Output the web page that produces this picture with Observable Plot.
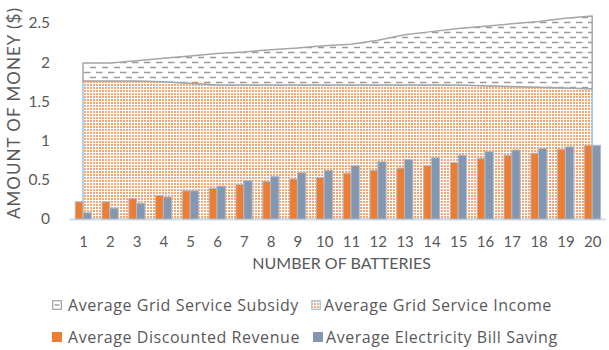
<!DOCTYPE html>
<html><head><meta charset="utf-8">
<script src="https://cdn.jsdelivr.net/npm/d3@7"></script>
<script src="https://cdn.jsdelivr.net/npm/@observablehq/plot@0.6"></script>
<style>
body{margin:0;background:#fff;font-family:Lato,"Open Sans",sans-serif;}
#wrap{position:relative;width:609px;height:350px;overflow:hidden;}
.leg{position:absolute;height:20px;line-height:20px;font-family:"Open Sans",sans-serif;font-size:16px;letter-spacing:0.55px;color:#595959;white-space:nowrap;display:flex;align-items:center;}
.leg svg{margin-right:6px;}
</style></head><body><div id="wrap"></div>
<script>
const batteries = [1,2,3,4,5,6,7,8,9,10,11,12,13,14,15,16,17,18,19,20];
const gridServiceIncome = [1.76,1.76,1.76,1.75,1.73,1.71,1.71,1.71,1.71,1.71,1.71,1.71,1.71,1.71,1.71,1.70,1.69,1.68,1.67,1.66];
const gridServiceSubsidy = [0.23,0.23,0.26,0.30,0.35,0.40,0.42,0.45,0.47,0.50,0.52,0.57,0.64,0.68,0.72,0.76,0.80,0.84,0.89,0.93];
const discountedRevenue = [0.22,0.22,0.26,0.30,0.36,0.39,0.44,0.48,0.51,0.53,0.58,0.62,0.65,0.68,0.72,0.77,0.81,0.84,0.89,0.94];
const billSaving = [0.08,0.14,0.20,0.28,0.36,0.42,0.49,0.54,0.59,0.62,0.68,0.73,0.76,0.78,0.81,0.86,0.88,0.90,0.92,0.94];
const yTicks = [0,0.5,1,1.5,2,2.5];
const seriesNames = ["Average Grid Service Subsidy","Average Grid Service Income","Average Discounted Revenue","Average Electricity Bill Saving"];
const xTitle = "NUMBER OF BATTERIES";
const yTitle = "AMOUNT OF MONEY ($)";

const rows = batteries.map((n,i)=>({n, income:gridServiceIncome[i], subsidy:gridServiceSubsidy[i], rev:discountedRevenue[i], save:billSaving[i]}));

const chart = Plot.plot({
  width:609, height:282, marginTop:23, marginBottom:63, marginLeft:69.6, marginRight:3.4,
  style:{fontFamily:"Lato, sans-serif", fontSize:"15px", color:"#595959", background:"transparent"},
  x:{type:"linear", domain:[0.5,20.5]},
  y:{domain:[0,2.5]},
  marks:[
    Plot.areaY(rows,{x:"n", y1:0, y2:"income", fill:"url(#dots)", stroke:"#9DC3E6", strokeWidth:1.5}),
    Plot.areaY(rows,{x:"n", y1:"income", y2:d=>d.income+d.subsidy, fill:"url(#dashes)", stroke:"#A6A6A6", strokeWidth:1.5}),
    Plot.ruleY([0],{stroke:"#D6DCE4", strokeWidth:2}),
    Plot.rectY(rows,{x1:d=>d.n-0.29, x2:d=>d.n, y1:0, y2:"rev", fill:"#ED7D31", stroke:"#AEBBCB", strokeWidth:1}),
    Plot.rectY(rows,{x1:d=>d.n, x2:d=>d.n+0.31, y1:0, y2:"save", fill:"#8497B0", stroke:"#AEBBCB", strokeWidth:1}),
    Plot.axisX({ticks:batteries, tickSize:0, tickPadding:17, label:null, fontSize:15}),
    Plot.axisY({ticks:yTicks, tickSize:0, tickPadding:20, label:null, fontSize:15.5, tickFormat:d=>String(d)}),
    Plot.text([xTitle],{frameAnchor:"bottom", dy:49, dx:3.5, fontSize:16, fill:"#595959"})
  ]
});
const svg = chart.tagName.toLowerCase()==="svg" ? chart : chart.querySelector("svg");
svg.insertAdjacentHTML("afterbegin", `<defs>
 <pattern id="dots" width="3" height="3" patternUnits="userSpaceOnUse">
   <rect width="3" height="3" fill="#fff"/><rect width="2" height="2" fill="#F5A673"/>
 </pattern>
 <pattern id="dashes" width="12" height="10" patternUnits="userSpaceOnUse">
   <rect width="12" height="10" fill="#fff"/>
   <line x1="0" x2="6.5" y1="2.5" y2="2.5" stroke="#9a9a9a" stroke-width="1.5"/>
   <line x1="6" x2="12.5" y1="7.5" y2="7.5" stroke="#9a9a9a" stroke-width="1.5"/>
 </pattern>
</defs>`);
d3.select(svg).append("text")
  .attr("transform","translate(14,113) rotate(-90)")
  .attr("text-anchor","middle").attr("dy","0.35em")
  .attr("font-family","Lato, sans-serif").attr("font-size",17)
  .attr("letter-spacing","1px")
  .attr("fill","#595959").text(yTitle);
const wrap = document.getElementById("wrap");
wrap.appendChild(chart);

const sw = [
  `<svg width="10" height="10"><rect x="0.75" y="0.75" width="8.5" height="8.5" fill="#fff" stroke="#8c8c8c" stroke-width="1"/><line x1="2.5" x2="7.5" y1="5" y2="5" stroke="#8c8c8c" stroke-width="1.2"/></svg>`,
  `<svg width="10" height="10"><rect x="0.75" y="0.75" width="8.5" height="8.5" fill="url(#dots)" stroke="#9DC3E6" stroke-width="1.2"/></svg>`,
  `<svg width="10" height="10"><rect x="0" y="0" width="10" height="10" fill="#ED7D31"/></svg>`,
  `<svg width="10" height="10"><rect x="0" y="0" width="10" height="10" fill="#8497B0"/></svg>`
];
const pos = [[52,305],[311,305],[52,337],[313,337]];
seriesNames.forEach((name,i)=>{
  const d = document.createElement("div");
  d.className = "leg";
  d.style.left = pos[i][0]+"px";
  d.style.top = (pos[i][1]-10)+"px";
  d.innerHTML = sw[i] + `<span>${name}</span>`;
  if (i===1||i===3) d.querySelector("svg").style.marginRight = "3px";
  wrap.appendChild(d);
});
</script>
</body></html>
